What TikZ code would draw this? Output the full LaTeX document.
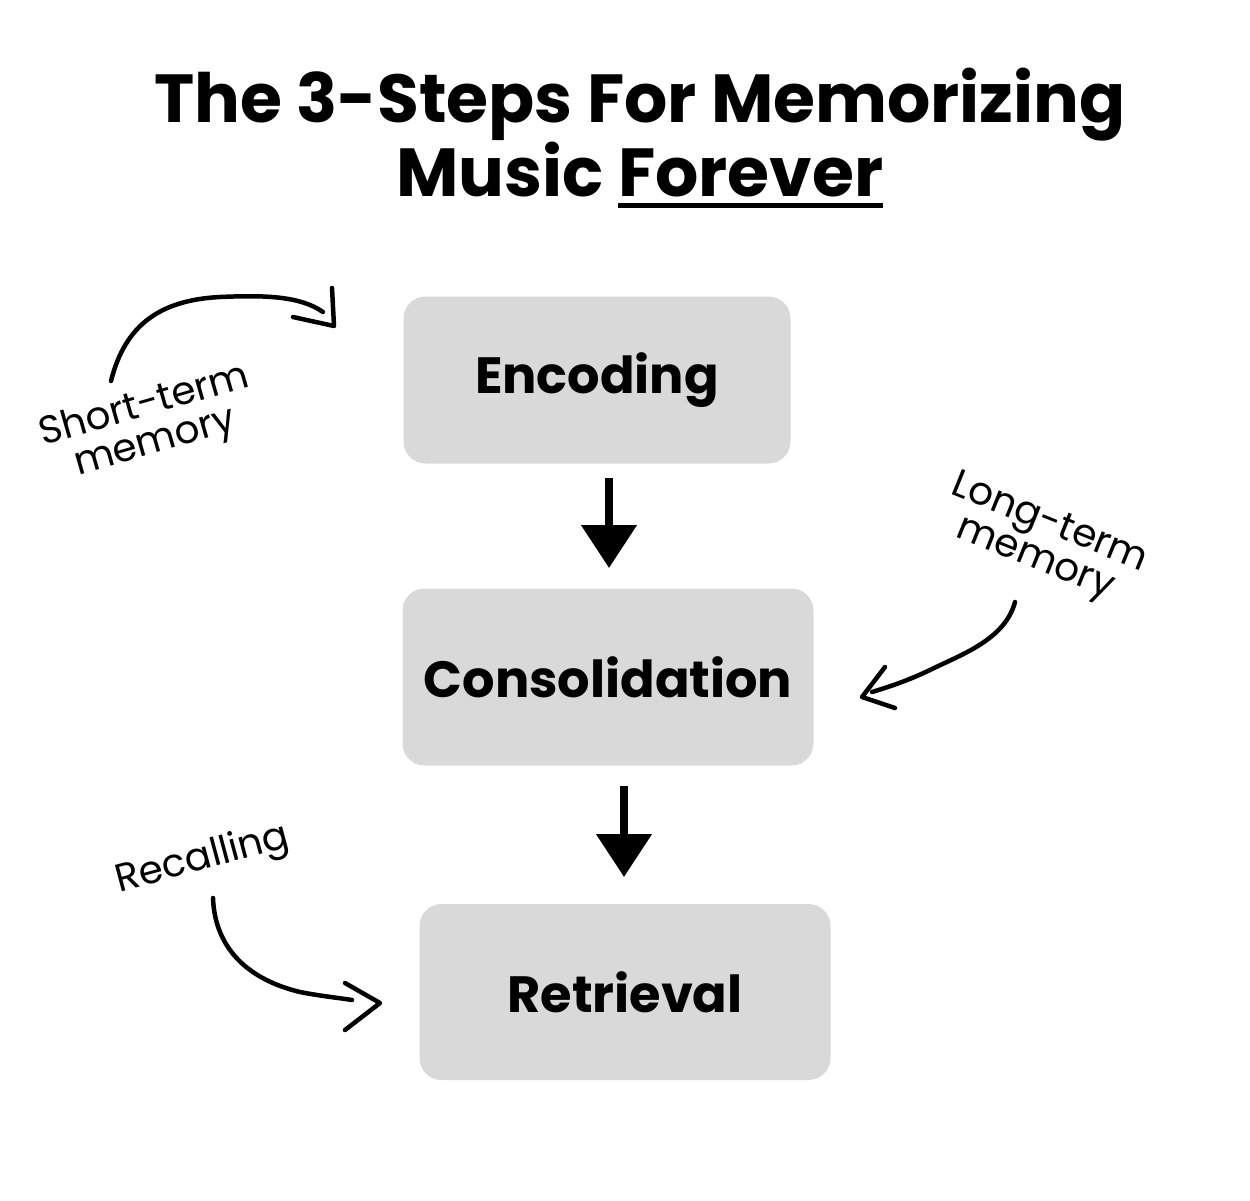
\documentclass[tikz,border=0pt]{standalone}
\usepackage{fontspec}
\setmainfont{Poppins}
\usetikzlibrary{arrows.meta}
\newcommand\myul[1]{\setbox0\hbox{#1}\rlap{\raisebox{-12pt}{\rule{\wd0}{5pt}}}\box0}
\tikzset{
  stepbox/.style={fill=boxgray, rounded corners=22pt, inner sep=0pt, font=\fontsize{51}{54}\selectfont\bfseries},
  bigarrow/.style={line width=8pt, -{Triangle[width=54pt,length=43pt]}},
  hand/.style={line width=4.5pt, line cap=round, line join=round},
  handtext/.style={font=\fontsize{39}{38}\selectfont, align=center, inner sep=0pt},
}
\definecolor{boxgray}{HTML}{D9D9D9}
\begin{document}
\begin{tikzpicture}[x=1pt,y=-1pt]
\useasboundingbox (0,0) rectangle (1250,1200);
\node[font=\fontsize{68}{66}\selectfont\bfseries, align=center, inner sep=0pt] (title) at (640,138)
  {The 3-Steps For Memorizing\\Music \myul{Forever}};

\node[stepbox, minimum width=387pt, minimum height=167pt] (enc) at (597,380) {Encoding};
\node[stepbox, minimum width=411pt, minimum height=177pt] (con) at (608,677) {Consolidation};
\node[stepbox, minimum width=411pt, minimum height=176pt] (ret) at (625,992) {Retrieval};

\draw[bigarrow] (609,478) coordinate (a1s) -- (609,568) coordinate (a1e);
\draw[bigarrow] (624,786) coordinate (a2s) -- (624,877) coordinate (a2e);

\node[handtext, rotate=16] (stm) at (150,425) {Short-term\\memory};
\node[handtext, rotate=-22] (ltm) at (1042,542) {Long-term\\memory};
\node[handtext, rotate=15] (rec) at (203,860) {Recalling};

% short-term arrow
\coordinate (s0) at (111,381);
\coordinate (s1) at (334,326);
\draw[hand] (s0) .. controls (125,325) and (160,300) .. (220,297)
  .. controls (265,295) and (300,296) .. (323,312);
\draw[hand] (332,288) -- (s1) -- (293,317);

% long-term arrow
\coordinate (l0) at (1015,602);
\coordinate (l1) at (862,697);
\draw[hand] (l0) .. controls (1005,640) and (960,655) .. (930,670)
  .. controls (905,682) and (885,688) .. (872,692);
\draw[hand] (885,667) -- (l1) -- (895,708);

% recalling arrow
\coordinate (r0) at (213,898);
\coordinate (r1) at (380,1003);
\draw[hand] (r0) .. controls (215,950) and (250,980) .. (300,992)
  .. controls (320,996) and (340,998) .. (352,1000);
\draw[hand] (345,983) -- (r1) -- (345,1030);
\end{tikzpicture}
\end{document}
